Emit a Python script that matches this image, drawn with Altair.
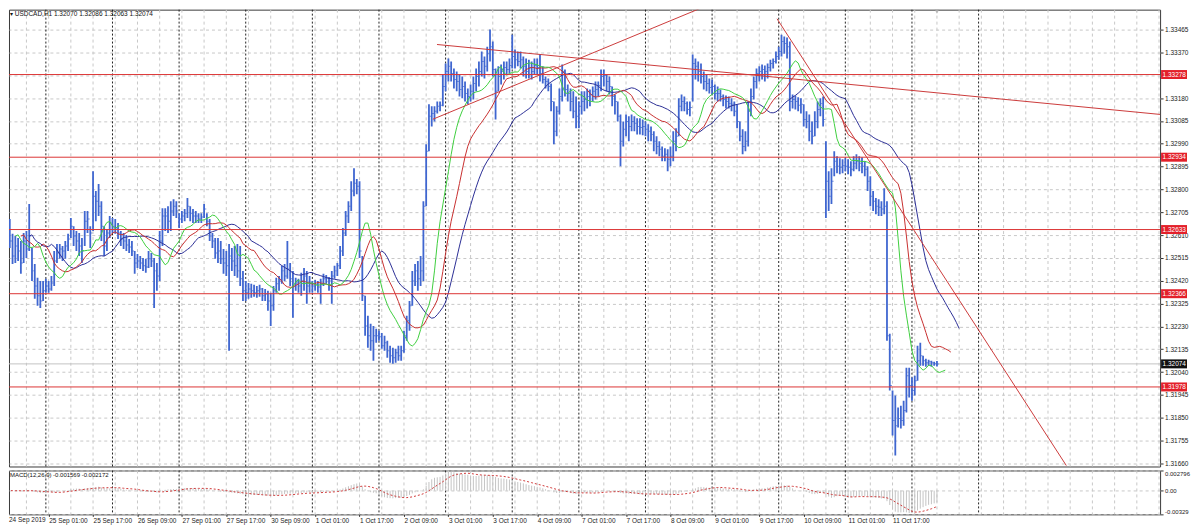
import json
import altair as alt
import pandas as pd

# ---------------- data (USDCAD H1, bar index 0 = 24 Sep 2019 10:00) -------------
high = [
1.32647,1.32677,1.32615,1.32606,1.32598,1.32585,1.32619,1.32627,1.32739,1.32556,
1.32490,1.32432,1.32419,1.32419,1.32428,1.32419,1.32440,1.32544,1.32573,1.32573,
1.32564,1.32585,1.32615,1.32681,1.32647,1.32627,1.32619,1.32598,1.32710,1.32710,
1.32647,1.32876,1.32793,1.32822,1.32751,1.32647,1.32635,1.32689,1.32681,1.32677,
1.32660,1.32627,1.32619,1.32610,1.32594,1.32585,1.32544,1.32531,1.32523,1.32515,
1.32511,1.32544,1.32535,1.32515,1.32494,1.32627,1.32722,1.32722,1.32730,1.32751,
1.32759,1.32751,1.32701,1.32710,1.32718,1.32764,1.32730,1.32718,1.32710,1.32701,
1.32701,1.32739,1.32701,1.32677,1.32619,1.32598,1.32598,1.32585,1.32552,1.32544,
1.32573,1.32556,1.32564,1.32573,1.32564,1.32461,1.32419,1.32411,1.32407,1.32403,
1.32398,1.32403,1.32390,1.32386,1.32378,1.32370,1.32398,1.32432,1.32440,1.32482,
1.32490,1.32585,1.32494,1.32461,1.32432,1.32428,1.32453,1.32473,1.32461,1.32440,
1.32419,1.32423,1.32419,1.32428,1.32449,1.32444,1.32436,1.32461,1.32482,1.32494,
1.32564,1.32639,1.32710,1.32751,1.32834,1.32888,1.32843,1.32834,1.32523,1.32357,
1.32274,1.32241,1.32232,1.32220,1.32212,1.32203,1.32191,1.32170,1.32149,1.32141,
1.32137,1.32149,1.32149,1.32212,1.32274,1.32336,1.32461,1.32490,1.32502,1.32523,
1.32751,1.32988,1.33154,1.33146,1.33146,1.33166,1.33166,1.33278,1.33324,1.33345,
1.33332,1.33303,1.33291,1.33278,1.33270,1.33249,1.33220,1.33237,1.33270,1.33303,
1.33332,1.33374,1.33353,1.33394,1.33465,1.33415,1.33303,1.33312,1.33320,1.33332,
1.33332,1.33345,1.33444,1.33382,1.33374,1.33374,1.33353,1.33345,1.33340,1.33332,
1.33345,1.33345,1.33361,1.33312,1.33270,1.33262,1.33241,1.33166,1.33146,1.33220,
1.33320,1.33299,1.33237,1.33220,1.33208,1.33187,1.33166,1.33208,1.33208,1.33220,
1.33216,1.33228,1.33249,1.33249,1.33299,1.33299,1.33278,1.33270,1.33228,1.33195,
1.33166,1.33112,1.33083,1.33112,1.33104,1.33112,1.33104,1.33096,1.33096,1.33091,
1.33083,1.33071,1.33062,1.33042,1.33021,1.33000,1.32979,1.32971,1.32967,1.32979,
1.33042,1.33054,1.33179,1.33195,1.33187,1.33166,1.33166,1.33361,1.33345,1.33332,
1.33324,1.33291,1.33278,1.33262,1.33257,1.33237,1.33228,1.33216,1.33195,1.33191,
1.33187,1.33179,1.33166,1.33154,1.33083,1.33050,1.33042,1.33166,1.33220,1.33270,
1.33303,1.33312,1.33320,1.33316,1.33324,1.33340,1.33345,1.33374,1.33394,1.33444,
1.33436,1.33432,1.33415,1.33195,1.33191,1.33183,1.33179,1.33154,1.33125,1.33112,
1.33083,1.33125,1.33166,1.33179,1.33187,1.33000,1.32876,1.32888,1.32959,1.32938,
1.32930,1.32925,1.32930,1.32925,1.32917,1.32938,1.32946,1.32938,1.32934,1.32917,
1.32896,1.32855,1.32793,1.32764,1.32759,1.32751,1.32805,1.32751,1.32199,1.31963,
1.31942,1.31892,1.31900,1.31921,1.32058,1.32058,1.32017,1.32025,1.32149,1.32162,
1.32108,1.32095,1.32091,1.32087,1.32083,1.32086]

low = [
1.32564,1.32556,1.32490,1.32494,1.32502,1.32449,1.32494,1.32515,1.32544,1.32419,
1.32345,1.32316,1.32307,1.32336,1.32370,1.32370,1.32378,1.32398,1.32494,1.32511,
1.32502,1.32511,1.32544,1.32598,1.32564,1.32544,1.32523,1.32494,1.32564,1.32619,
1.32556,1.32627,1.32668,1.32689,1.32585,1.32523,1.32544,1.32598,1.32619,1.32615,
1.32594,1.32564,1.32552,1.32544,1.32535,1.32523,1.32449,1.32473,1.32469,1.32461,
1.32453,1.32473,1.32477,1.32307,1.32378,1.32419,1.32564,1.32627,1.32619,1.32627,
1.32689,1.32681,1.32639,1.32660,1.32668,1.32681,1.32668,1.32660,1.32660,1.32660,
1.32660,1.32681,1.32647,1.32585,1.32556,1.32511,1.32494,1.32490,1.32449,1.32440,
1.32129,1.32461,1.32440,1.32432,1.32398,1.32336,1.32336,1.32345,1.32349,1.32353,
1.32349,1.32353,1.32336,1.32336,1.32295,1.32232,1.32295,1.32370,1.32378,1.32407,
1.32419,1.32428,1.32398,1.32266,1.32378,1.32370,1.32357,1.32378,1.32324,1.32370,
1.32370,1.32378,1.32370,1.32324,1.32398,1.32407,1.32378,1.32324,1.32428,1.32440,
1.32469,1.32523,1.32606,1.32660,1.32710,1.32772,1.32780,1.32515,1.32336,1.32191,
1.32141,1.32129,1.32087,1.32162,1.32170,1.32137,1.32129,1.32100,1.32079,1.32075,
1.32079,1.32087,1.32087,1.32120,1.32170,1.32212,1.32316,1.32398,1.32378,1.32398,
1.32419,1.32730,1.32959,1.33062,1.33083,1.33116,1.33125,1.33146,1.33208,1.33249,
1.33249,1.33220,1.33208,1.33187,1.33179,1.33166,1.33154,1.33166,1.33174,1.33208,
1.33228,1.33270,1.33262,1.33291,1.33332,1.33270,1.33091,1.33208,1.33237,1.33257,
1.33278,1.33282,1.33303,1.33303,1.33312,1.33303,1.33270,1.33262,1.33262,1.33257,
1.33278,1.33278,1.33249,1.33241,1.33220,1.33208,1.33125,1.32988,1.33021,1.33112,
1.33166,1.33187,1.33166,1.33125,1.33096,1.33054,1.33054,1.33112,1.33125,1.33137,
1.33146,1.33166,1.33174,1.33187,1.33208,1.33228,1.33208,1.33195,1.33146,1.33112,
1.33083,1.32896,1.32979,1.33021,1.33000,1.33042,1.33042,1.33029,1.33029,1.33025,
1.33021,1.33000,1.33000,1.32959,1.32946,1.32938,1.32917,1.32917,1.32876,1.32896,
1.32917,1.32959,1.33021,1.33125,1.33125,1.33112,1.33104,1.33166,1.33257,1.33249,
1.33241,1.33216,1.33208,1.33199,1.33195,1.33174,1.33166,1.33166,1.33146,1.33137,
1.33137,1.33125,1.33104,1.33054,1.33000,1.32946,1.32959,1.32979,1.33104,1.33174,
1.33220,1.33249,1.33257,1.33249,1.33262,1.33291,1.33303,1.33324,1.33340,1.33353,
1.33365,1.33345,1.33125,1.33137,1.33133,1.33125,1.33116,1.33062,1.33054,1.33000,
1.32988,1.33021,1.33054,1.33104,1.33062,1.32681,1.32710,1.32739,1.32855,1.32867,
1.32863,1.32867,1.32876,1.32863,1.32855,1.32876,1.32884,1.32876,1.32867,1.32855,
1.32793,1.32730,1.32710,1.32697,1.32689,1.32689,1.32697,1.32170,1.31963,1.31776,
1.31693,1.31809,1.31805,1.31817,1.31872,1.31934,1.31921,1.31942,1.32004,1.32066,
1.32066,1.32062,1.32066,1.32062,1.32066,1.32063]

close = [
1.32606,1.32585,1.32523,1.32564,1.32544,1.32494,1.32585,1.32552,1.32606,1.32461,
1.32398,1.32357,1.32336,1.32378,1.32398,1.32386,1.32411,1.32502,1.32535,1.32552,
1.32544,1.32564,1.32594,1.32647,1.32606,1.32585,1.32564,1.32544,1.32668,1.32677,
1.32619,1.32772,1.32751,1.32730,1.32647,1.32564,1.32619,1.32660,1.32647,1.32635,
1.32619,1.32594,1.32585,1.32569,1.32560,1.32544,1.32494,1.32502,1.32494,1.32482,
1.32477,1.32511,1.32502,1.32461,1.32440,1.32585,1.32689,1.32689,1.32668,1.32710,
1.32730,1.32710,1.32677,1.32689,1.32701,1.32730,1.32701,1.32689,1.32689,1.32677,
1.32685,1.32718,1.32668,1.32606,1.32585,1.32535,1.32544,1.32511,1.32494,1.32482,
1.32523,1.32502,1.32482,1.32461,1.32428,1.32378,1.32370,1.32386,1.32378,1.32370,
1.32378,1.32386,1.32357,1.32365,1.32336,1.32316,1.32378,1.32407,1.32419,1.32461,
1.32440,1.32469,1.32428,1.32398,1.32411,1.32398,1.32419,1.32440,1.32398,1.32411,
1.32398,1.32403,1.32394,1.32407,1.32428,1.32432,1.32419,1.32440,1.32461,1.32482,
1.32544,1.32619,1.32689,1.32730,1.32793,1.32826,1.32813,1.32544,1.32357,1.32232,
1.32191,1.32170,1.32191,1.32191,1.32187,1.32149,1.32162,1.32129,1.32108,1.32100,
1.32120,1.32108,1.32129,1.32191,1.32253,1.32316,1.32419,1.32461,1.32428,1.32461,
1.32730,1.32959,1.33104,1.33116,1.33125,1.33146,1.33150,1.33228,1.33291,1.33312,
1.33282,1.33257,1.33249,1.33216,1.33228,1.33199,1.33187,1.33208,1.33241,1.33270,
1.33291,1.33332,1.33312,1.33365,1.33394,1.33299,1.33208,1.33270,1.33291,1.33307,
1.33299,1.33316,1.33353,1.33340,1.33332,1.33340,1.33312,1.33291,1.33307,1.33291,
1.33316,1.33307,1.33282,1.33257,1.33249,1.33228,1.33166,1.33042,1.33125,1.33187,
1.33291,1.33216,1.33199,1.33166,1.33125,1.33104,1.33146,1.33166,1.33174,1.33187,
1.33195,1.33208,1.33216,1.33232,1.33270,1.33274,1.33249,1.33228,1.33187,1.33166,
1.33104,1.33000,1.33050,1.33083,1.33062,1.33083,1.33075,1.33062,1.33058,1.33062,
1.33050,1.33042,1.33029,1.33000,1.32979,1.32967,1.32938,1.32946,1.32925,1.32938,
1.33000,1.33021,1.33146,1.33166,1.33158,1.33133,1.33141,1.33324,1.33312,1.33291,
1.33270,1.33249,1.33241,1.33224,1.33228,1.33199,1.33199,1.33187,1.33174,1.33166,
1.33158,1.33154,1.33125,1.33083,1.33021,1.32979,1.33000,1.33125,1.33187,1.33249,
1.33282,1.33291,1.33299,1.33291,1.33307,1.33324,1.33332,1.33353,1.33374,1.33415,
1.33407,1.33394,1.33166,1.33174,1.33166,1.33150,1.33154,1.33091,1.33083,1.33042,
1.33021,1.33083,1.33133,1.33158,1.33091,1.32834,1.32772,1.32834,1.32917,1.32896,
1.32892,1.32900,1.32896,1.32892,1.32884,1.32909,1.32917,1.32909,1.32896,1.32884,
1.32834,1.32772,1.32751,1.32730,1.32726,1.32718,1.32730,1.32191,1.31984,1.31838,
1.31817,1.31847,1.31838,1.31880,1.32025,1.31984,1.31963,1.32004,1.32087,1.32108,
1.32087,1.32079,1.32083,1.32079,1.32075,1.32074]

level_prices = [1.33278, 1.32934, 1.32633, 1.32366, 1.31978]
level_text = ["1.33278", "1.32934", "1.32633", "1.32366", "1.31978"]
bid_price = [1.32074]
bid_text = ["1.32074"]

trend_id = ["up", "up", "fall", "fall", "steep", "steep"]
trend_k = [153.4, 253.0, 154.9, 419.0, 277.4, 381.6]
trend_p = [1.33092, 1.33569, 1.33403, 1.33108, 1.33510, 1.31651]

price_ticks = [1.33465, 1.33370, 1.33275, 1.33180, 1.33085, 1.32990, 1.32895, 1.32800,
               1.32705, 1.32610, 1.32515, 1.32420, 1.32325, 1.32230, 1.32135, 1.32040,
               1.31945, 1.31850, 1.31755, 1.31660]
macd_ticks = [-0.00329, 0.0, 0.002796]

day_starts = [14, 38, 62, 86, 110, 134, 158, 182, 206, 230, 254, 278, 302, 326, 350]
label_k = [15, 31, 47, 63, 79, 95, 111, 127, 143, 159, 175, 191, 207, 223, 239, 255,
           271, 287, 303, 319]
label_txt = ["25 Sep 01:00", "25 Sep 17:00", "26 Sep 09:00", "27 Sep 01:00",
             "27 Sep 17:00", "30 Sep 09:00", "1 Oct 01:00", "1 Oct 17:00", "2 Oct 09:00",
             "3 Oct 01:00", "3 Oct 17:00", "4 Oct 09:00", "7 Oct 01:00", "7 Oct 17:00",
             "8 Oct 09:00", "9 Oct 01:00", "9 Oct 17:00", "10 Oct 09:00", "11 Oct 01:00",
             "11 Oct 17:00"]
first_label = ["24 Sep 2019"]
grid_k = list(range(7, 420, 8))
shift_k = [335]

header_txt = ["\u25BE USDCAD,H1  1.32070 1.32086 1.32063 1.32074"]
macd_txt = ["MACD(12,26,9) -0.001569 -0.002172"]

# ---------------- styling / layout ----------------
FONT = "Liberation Sans"
W = 1154
H_MAIN = 458
H_MACD = 44
BLUE = "#3f66d0"
RED = "#dc3535"
GRID = "#c8c8c8"

bars = pd.DataFrame({"k": list(range(len(close))), "high": high, "low": low, "close": close})
levels = pd.DataFrame({"price": level_prices, "label": level_text})
bid = pd.DataFrame({"price": bid_price, "label": bid_text})
trend = pd.DataFrame({"id": trend_id, "k": trend_k, "p": trend_p})
grid_df = pd.DataFrame({"k": grid_k})
day_df = pd.DataFrame({"k": day_starts})

xs = alt.Scale(domain=[0.72, 415.38], nice=False, zero=False)
ys = alt.Scale(domain=[1.31647, 1.33548], nice=False, zero=False)
ms = alt.Scale(domain=[-0.00329, 0.002796], nice=False, zero=False)

yax = alt.Axis(orient="right", values=price_ticks,
               labelExpr="abs(datum.value - 1.33275) < 0.000001 ? '' : format(datum.value, '.5f')",
               grid=True, gridDash=[3, 3], minExtent=0,
               gridColor=GRID, tickSize=3, tickColor="#333", labelFontSize=6.5, labelColor="#222",
               labelFont=FONT, title=None, domain=False, labelPadding=1.5)
label_expr = "[" + ",".join(json.dumps(t) for t in label_txt) + "][indexof(" + json.dumps(label_k) + ", datum.value)]"
xax = alt.Axis(values=label_k, labelExpr=label_expr, labelAlign="left", labelFontSize=6.5,
               labelFont=FONT, labelColor="#222", tickSize=2, tickColor="#333", grid=False,
               domain=False, title=None, labelPadding=1, labelFlush=False, labelOverlap=False)
max_ = alt.Axis(orient="right", values=macd_ticks,
                labelExpr="datum.value > 0 ? '0.002796' : (datum.value < 0 ? '-0.00329' : '0.00')",
                labelFlush=True, grid=True, gridDash=[3, 3], gridColor=GRID, tickSize=3,
                tickColor="#333", labelFontSize=6, labelFont=FONT, labelColor="#222",
                title=None, domain=False, labelPadding=1.5, minExtent=0)

def vgrid(axis):
    return alt.Chart(grid_df).mark_rule(color=GRID, strokeDash=[3, 3], strokeWidth=1).encode(
        x=alt.X("k:Q", scale=xs, axis=axis))

def daysep(axis):
    return alt.Chart(day_df).mark_rule(color="#222", strokeDash=[2, 2], strokeWidth=1).encode(
        x=alt.X("k:Q", scale=xs, axis=axis))

def smoothed(chart, src, lengths, mix, out):
    # exponential-style smoothing built from a mix of Vega-Lite moving windows
    names = []
    for i, L in enumerate(lengths):
        nm = f"{out}_w{i}"
        chart = chart.transform_window(**{nm: f"mean({src})"}, frame=[-(L - 1), 0],
                                       sort=[alt.SortField("k")])
        names.append(nm)
    expr = " + ".join(f"{m} * datum.{n}" for m, n in zip(mix, names))
    return chart.transform_calculate(**{out: expr})

MIX = [0.20, 0.41, 0.39]

# ---------------- main price panel ----------------
bidline = alt.Chart(bid).mark_rule(color="#c4c4c4", strokeWidth=1).encode(
    y=alt.Y("price:Q", scale=ys, axis=yax))

ohlc = alt.Chart(bars).mark_rule(color=BLUE, strokeWidth=1.8, clip=True).encode(
    x=alt.X("k:Q", scale=xs, axis=None),
    y=alt.Y("low:Q", scale=ys, axis=yax),
    y2="high:Q")

closetick = alt.Chart(bars).mark_tick(color=BLUE, orient="horizontal", size=2, thickness=1,
                                      xOffset=1.2, clip=True).encode(
    x=alt.X("k:Q", scale=xs, axis=None),
    y=alt.Y("close:Q", scale=ys, axis=yax))

med = alt.Chart(bars).transform_calculate(med="(datum.high + datum.low) / 2")

def alligator(lengths, shift, color, name):
    c = smoothed(med, "med", lengths, MIX, name)
    return c.transform_calculate(ks=f"datum.k + {shift}").mark_line(
        color=color, strokeWidth=1, clip=True).encode(
        x=alt.X("ks:Q", scale=xs, axis=None),
        y=alt.Y(f"{name}:Q", scale=ys, axis=yax))

jaw = alligator([6, 19, 44], 8, "#2c2f96", "jaw")      # SMMA 13, shift 8
teeth = alligator([4, 11, 26], 5, "#c83030", "teeth")  # SMMA 8, shift 5
lips = alligator([2, 7, 16], 3, "#3fcf3f", "lips")      # SMMA 5, shift 3

lvl = alt.Chart(levels).mark_rule(color=RED, strokeWidth=1).encode(
    y=alt.Y("price:Q", scale=ys, axis=yax))

trendlines = alt.Chart(trend).mark_line(color="#cc3b3b", strokeWidth=1, clip=True).encode(
    x=alt.X("k:Q", scale=xs, axis=None),
    y=alt.Y("p:Q", scale=ys, axis=yax),
    detail="id:N")

lvl_box = alt.Chart(levels).mark_rule(color="#e3202a", strokeWidth=9, strokeCap="butt").encode(
    x=alt.value(W + 1), x2=alt.value(W + 27), y=alt.Y("price:Q", scale=ys, axis=yax))
lvl_lbl = alt.Chart(levels).mark_text(color="white", align="left", baseline="middle",
                                      fontSize=6.5, font=FONT).encode(
    x=alt.value(W + 2.5), y=alt.Y("price:Q", scale=ys, axis=yax), text="label:N")
bid_box = alt.Chart(bid).mark_rule(color="#111111", strokeWidth=9, strokeCap="butt").encode(
    x=alt.value(W + 1), x2=alt.value(W + 27), y=alt.Y("price:Q", scale=ys, axis=yax))
bid_lbl = alt.Chart(bid).mark_text(color="white", align="left", baseline="middle",
                                   fontSize=6.5, font=FONT).encode(
    x=alt.value(W + 2.5), y=alt.Y("price:Q", scale=ys, axis=yax), text="label:N")

header = alt.Chart(pd.DataFrame({"t": header_txt})).mark_text(
    align="left", baseline="middle", fontSize=6.5, font=FONT, color="#111").encode(
    x=alt.value(1), y=alt.value(4), text="t:N")

shift_mark = alt.Chart(pd.DataFrame({"k": shift_k})).mark_point(
    shape="triangle-down", filled=True, size=22, color="#a8a8a8", yOffset=2).encode(
    x=alt.X("k:Q", scale=xs, axis=None), y=alt.value(0))

main = alt.layer(
    vgrid(None), daysep(None), bidline, ohlc, closetick, jaw, teeth, lips, lvl, trendlines,
    lvl_box, lvl_lbl, bid_box, bid_lbl, header, shift_mark
).properties(width=W, height=H_MAIN)

# ---------------- MACD panel ----------------
mb = smoothed(alt.Chart(bars), "close", [3, 9, 21], MIX, "ema12")
mb = smoothed(mb, "close", [7, 20, 46], MIX, "ema26")
mbase = mb.transform_calculate(
    macd="datum.ema12 - datum.ema26"
).transform_window(
    sig="mean(macd)", frame=[-8, 0], sort=[alt.SortField("k")]
)

hist = mbase.mark_rule(color="#c4c4c4", strokeWidth=1, clip=True).encode(
    x=alt.X("k:Q", scale=xs, axis=xax),
    y=alt.Y("macd:Q", scale=ms, axis=max_),
    y2=alt.datum(0))
sig = mbase.mark_line(color="#d03a3a", strokeDash=[2, 2], strokeWidth=1, clip=True).encode(
    x=alt.X("k:Q", scale=xs, axis=xax),
    y=alt.Y("sig:Q", scale=ms, axis=max_))
mtitle = alt.Chart(pd.DataFrame({"t": macd_txt})).mark_text(
    align="left", baseline="middle", fontSize=6, font=FONT, color="#111").encode(
    x=alt.value(1), y=alt.value(5), text="t:N")
first_lbl = alt.Chart(pd.DataFrame({"t": first_label})).mark_text(
    align="left", baseline="top", fontSize=6.5, font=FONT, color="#222").encode(
    x=alt.value(0), y=alt.value(H_MACD + 3), text="t:N")

macd = alt.layer(vgrid(xax), daysep(xax), hist, sig, mtitle, first_lbl).properties(
    width=W, height=H_MACD)

chart = alt.vconcat(main, macd, spacing=2).properties(
    padding={"left": 0, "top": 0, "right": 0, "bottom": 0}
).configure(font=FONT).configure_view(stroke="#3a3a3a", strokeWidth=1)

chart.save("out.html", embed_options={"renderer": "svg", "actions": False})
